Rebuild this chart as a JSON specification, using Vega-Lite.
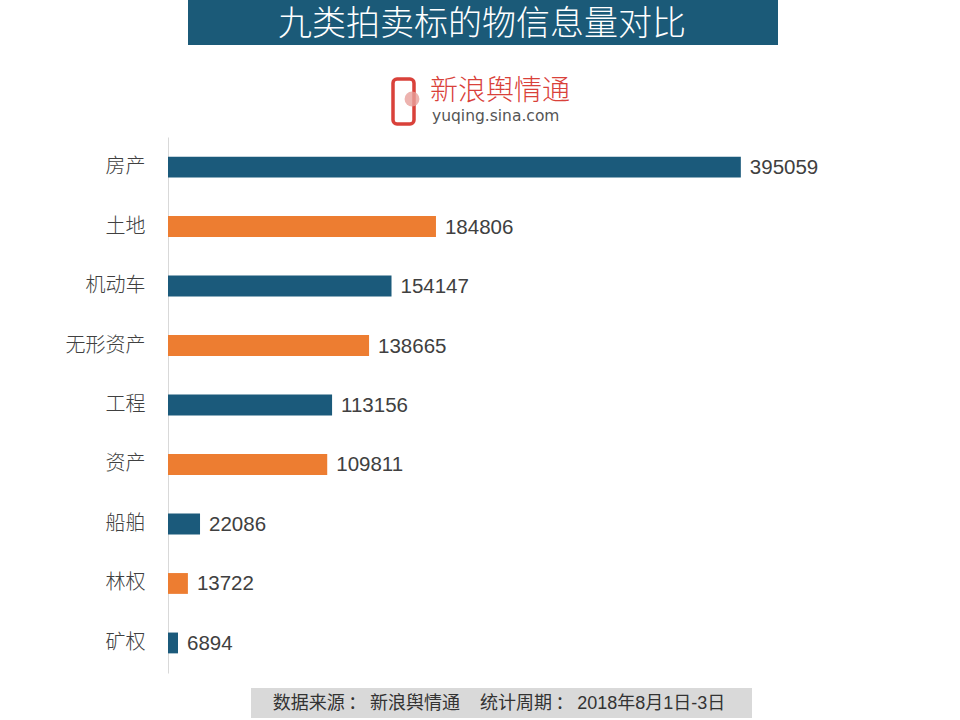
{
  "$schema": "https://vega.github.io/schema/vega-lite/v6.json",
  "width": 700,
  "height": 536,
  "autosize": {"type": "none"},
  "padding": {"left": 168, "top": 137, "right": 92, "bottom": 47},
  "background": "white",
  "config": {"view": {"stroke": null}, "font": "Liberation Sans"},
  "datasets": {
    "main": [
      {"category": "房产", "count": 395059},
      {"category": "土地", "count": 184806},
      {"category": "机动车", "count": 154147},
      {"category": "无形资产", "count": 138665},
      {"category": "工程", "count": 113156},
      {"category": "资产", "count": 109811},
      {"category": "船舶", "count": 22086},
      {"category": "林权", "count": 13722},
      {"category": "矿权", "count": 6894}
    ],
    "deco": [
      {"title": "九类拍卖标的物信息量对比", "brand": "新浪舆情通", "site": "yuqing.sina.com", "footer": "数据来源\u2009：\u2009新浪舆情通\u00a0\u00a0\u00a0\u00a0统计周期\u2009：\u20092018年8月1日-3日"}
    ]
  },
  "layer": [
    {
      "data": {"name": "main"},
      "mark": {"type": "bar", "clip": false},
      "encoding": {
        "y": {
          "field": "category", "type": "nominal", "sort": null,
          "scale": {"paddingInner": 0.65, "paddingOuter": 0.33},
          "axis": {"title": null, "ticks": false, "domainColor": "#d9d9d9", "domainWidth": 1, "labelFont": "Noto Sans CJK SC", "labelFontSize": 20, "labelFontWeight": 300, "labelColor": "#404040", "labelPadding": 23}
        },
        "x": {
          "field": "count", "type": "quantitative",
          "scale": {"domain": [0, 482759], "nice": false},
          "axis": null
        },
        "color": {
          "field": "category", "type": "nominal",
          "scale": {
            "domain": ["房产", "土地", "机动车", "无形资产", "工程", "资产", "船舶", "林权", "矿权"],
            "range": ["#1b5a7b", "#ed7d31", "#1b5a7b", "#ed7d31", "#1b5a7b", "#ed7d31", "#1b5a7b", "#ed7d31", "#1b5a7b"]
          },
          "legend": null
        }
      }
    },
    {
      "data": {"name": "main"},
      "mark": {"type": "text", "align": "left", "baseline": "middle", "dx": 9, "dy": 1, "fontSize": 20.5, "color": "#404040", "font": "Liberation Sans"},
      "encoding": {
        "y": {"field": "category", "type": "nominal", "sort": null},
        "x": {"field": "count", "type": "quantitative"},
        "text": {"field": "count", "type": "quantitative", "format": "d"}
      }
    },
    {
      "data": {"name": "deco"},
      "mark": {"type": "rect", "color": "#1b5a78", "clip": false},
      "encoding": {"x": {"value": 20}, "x2": {"value": 610}, "y": {"value": -137}, "y2": {"value": -92}}
    },
    {
      "data": {"name": "deco"},
      "mark": {"type": "text", "align": "center", "baseline": "middle", "fontSize": 34, "fontWeight": 300, "color": "white", "font": "Noto Sans CJK SC"},
      "encoding": {"x": {"value": 314}, "y": {"value": -112}, "text": {"field": "title"}}
    },
    {
      "data": {"name": "deco"},
      "mark": {"type": "rect", "fill": "white", "stroke": "#d9413a", "strokeWidth": 3.5, "cornerRadius": 4},
      "encoding": {"x": {"value": 225}, "x2": {"value": 246}, "y": {"value": -58}, "y2": {"value": -13}}
    },
    {
      "data": {"name": "deco"},
      "mark": {"type": "point", "shape": "circle", "filled": true, "color": "#e8a09b", "size": 220, "opacity": 0.8},
      "encoding": {"x": {"value": 244}, "y": {"value": -38}}
    },
    {
      "data": {"name": "deco"},
      "mark": {"type": "text", "align": "left", "baseline": "middle", "fontSize": 28, "fontWeight": 300, "color": "#d9413a", "font": "Noto Sans CJK SC"},
      "encoding": {"x": {"value": 262}, "y": {"value": -45}, "text": {"field": "brand"}}
    },
    {
      "data": {"name": "deco"},
      "mark": {"type": "text", "align": "left", "baseline": "middle", "fontSize": 15.5, "color": "#555555", "font": "DejaVu Sans"},
      "encoding": {"x": {"value": 264}, "y": {"value": -21}, "text": {"field": "site"}}
    },
    {
      "data": {"name": "deco"},
      "mark": {"type": "rect", "color": "#d9d9d9"},
      "encoding": {"x": {"value": 83}, "x2": {"value": 584}, "y": {"value": 551}, "y2": {"value": 581}}
    },
    {
      "data": {"name": "deco"},
      "mark": {"type": "text", "align": "center", "baseline": "middle", "fontSize": 18, "color": "#333333", "font": "Liberation Sans, Noto Sans CJK SC"},
      "encoding": {"x": {"value": 331}, "y": {"value": 567}, "text": {"field": "footer"}}
    }
  ]
}
